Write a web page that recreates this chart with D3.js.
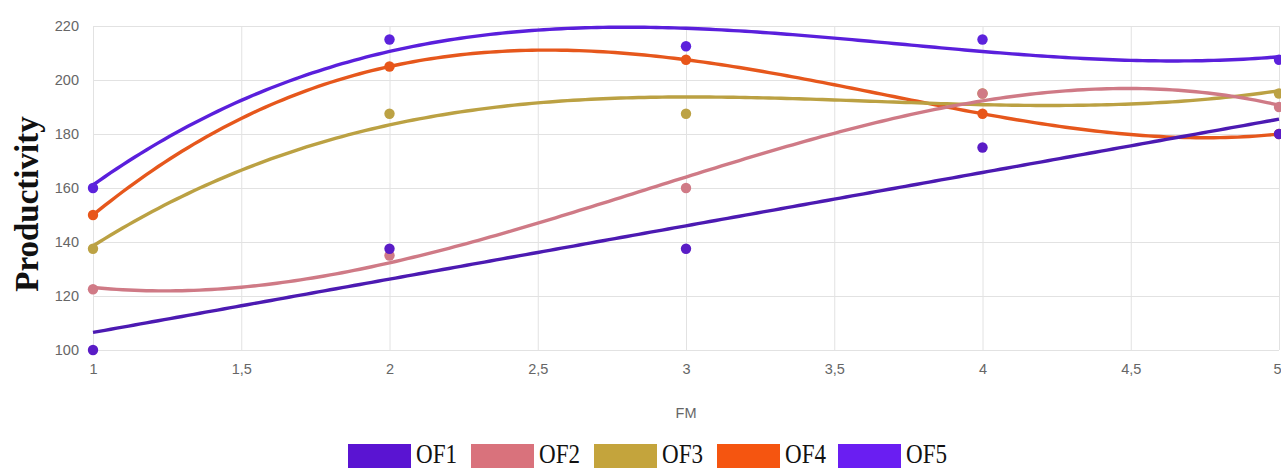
<!DOCTYPE html>
<html>
<head>
<meta charset="utf-8">
<script src="https://cdn.jsdelivr.net/npm/d3@7"></script>
<style>
  html, body { margin: 0; padding: 0; background: #fff; }
  svg { display: block; }
</style>
</head>
<body>
<svg id="chart" width="1281" height="469"></svg>
<script>
// ---- data ----
const fmValues = [1, 2, 3, 4, 5];
const seriesNames = ["OF1", "OF2", "OF3", "OF4", "OF5"];
const of1 = [100, 137.5, 137.5, 175, 180];
const of2 = [122.5, 135, 160, 195, 190];
const of3 = [137.5, 187.5, 187.5, 195, 195];
const of4 = [150, 205, 207.5, 187.5, 180];
const of5 = [160, 215, 212.5, 215, 207.5];
// polynomial order of each trendline
const trendOrder = [1, 3, 3, 4, 3];
const xTicks = [1, 1.5, 2, 2.5, 3, 3.5, 4, 4.5, 5];
const yTicks = [100, 120, 140, 160, 180, 200, 220];

const seriesValues = [of1, of2, of3, of4, of5];
const lineColors  = ["#4c1ab2", "#cf7a86", "#bba143", "#e6571c", "#5a1fdc"];
const pointColors = ["#5a1cc6", "#d07a86", "#bca244", "#e8561a", "#5c22dc"];
const legendColors = ["#5a14d2", "#d9727c", "#c4a43c", "#f55510", "#6a1ef2"];

// ---- polynomial least squares ----
function polyfit(xs, ys, deg) {
  const n = deg + 1;
  const A = Array.from({length: n}, () => new Array(n + 1).fill(0));
  for (let i = 0; i < n; i++) {
    for (let j = 0; j < n; j++) {
      A[i][j] = d3.sum(xs, v => Math.pow(v, i + j));
    }
    A[i][n] = d3.sum(xs.map((v, k) => ys[k] * Math.pow(v, i)));
  }
  for (let c = 0; c < n; c++) {
    let p = c;
    for (let r = c + 1; r < n; r++) if (Math.abs(A[r][c]) > Math.abs(A[p][c])) p = r;
    [A[c], A[p]] = [A[p], A[c]];
    for (let r = 0; r < n; r++) {
      if (r === c) continue;
      const f = A[r][c] / A[c][c];
      for (let k = c; k <= n; k++) A[r][k] -= f * A[c][k];
    }
  }
  return A.map((row, i) => row[n] / row[i]);
}
const evalPoly = (coef, v) => coef.reduce((s, c, i) => s + c * Math.pow(v, i), 0);

// ---- layout ----
const svg = d3.select("#chart");
const mLeft = 93, mRight = 1279, mTop = 26, mBottom = 350;
const x = d3.scaleLinear().domain([1, 5]).range([mLeft, mRight]);
const y = d3.scaleLinear().domain([100, 220]).range([mBottom, mTop]);

const loc = d3.formatLocale({decimal: ",", thousands: ".", grouping: [3], currency: ["", ""]});
const fmt = loc.format(".1~f");

// grid
const grid = svg.append("g");
grid.selectAll("line.h").data(yTicks).join("line")
  .attr("x1", mLeft).attr("x2", mRight)
  .attr("y1", d => y(d) + 0.5).attr("y2", d => y(d) + 0.5)
  .attr("stroke", "#e2e2e2").attr("stroke-width", 1);
grid.selectAll("line.v").data(xTicks).join("line")
  .attr("x1", d => x(d) + 0.5).attr("x2", d => x(d) + 0.5)
  .attr("y1", mTop).attr("y2", mBottom)
  .attr("stroke", "#e2e2e2").attr("stroke-width", 1);

// axes
const yAxis = svg.append("g").attr("transform", `translate(${mLeft - 14},0)`)
  .call(d3.axisLeft(y).tickValues(yTicks).tickSize(0).tickPadding(0));
yAxis.select(".domain").remove();
yAxis.selectAll("text").attr("font-family", "Liberation Sans, Arial, sans-serif")
  .attr("font-size", 14.5).attr("fill", "#666");

const xAxis = svg.append("g").attr("transform", `translate(0,${mBottom + 14})`)
  .call(d3.axisBottom(x).tickValues(xTicks).tickFormat(fmt).tickSize(0).tickPadding(0));
xAxis.select(".domain").remove();
xAxis.selectAll("text").attr("font-family", "Liberation Sans, Arial, sans-serif")
  .attr("font-size", 14.5).attr("fill", "#666");
// keep the last label inside the window
xAxis.selectAll(".tick").filter(d => d === xTicks[xTicks.length - 1])
  .select("text").attr("text-anchor", "end").attr("dx", 2);

// axis titles
svg.append("text")
  .attr("transform", "translate(38,204) rotate(-90)")
  .attr("text-anchor", "middle")
  .attr("font-family", "Liberation Serif, Times New Roman, serif")
  .attr("font-weight", "bold").attr("font-size", 33).attr("fill", "#111")
  .text("Productivity");
svg.append("text")
  .attr("x", 686).attr("y", 418).attr("text-anchor", "middle")
  .attr("font-family", "Liberation Sans, Arial, sans-serif")
  .attr("font-size", 14.5).attr("fill", "#666")
  .text("FM");

// trendlines and points (first series drawn last -> on top)
const samples = d3.range(0, 201).map(i => 1 + 4 * i / 200);
const lineGen = d3.line().x(d => x(d[0])).y(d => y(d[1]));
const order = d3.range(seriesNames.length).reverse();
const plot = svg.append("g");
order.forEach(si => {
  const coef = polyfit(fmValues, seriesValues[si], trendOrder[si]);
  plot.append("path")
    .datum(samples.map(t => [t, evalPoly(coef, t)]))
    .attr("d", lineGen)
    .attr("fill", "none")
    .attr("stroke", lineColors[si])
    .attr("stroke-width", 3.4);
});
order.forEach(si => {
  plot.append("g").selectAll("circle")
    .data(fmValues.map((f, i) => [f, seriesValues[si][i]]))
    .join("circle")
    .attr("cx", d => x(d[0])).attr("cy", d => y(d[1]))
    .attr("r", 5.2).attr("fill", pointColors[si]);
});

// legend
const legendX = [348, 471, 594, 717, 838];
const legend = svg.append("g");
seriesNames.forEach((name, i) => {
  legend.append("rect")
    .attr("x", legendX[i]).attr("y", 444)
    .attr("width", 63).attr("height", 24)
    .attr("fill", legendColors[i]);
  legend.append("text")
    .attr("x", legendX[i] + 68).attr("y", 463)
    .attr("font-family", "Liberation Serif, Times New Roman, serif")
    .attr("font-size", 28).attr("fill", "#111")
    .attr("textLength", 41).attr("lengthAdjust", "spacingAndGlyphs")
    .text(name);
});
</script>
</body>
</html>
